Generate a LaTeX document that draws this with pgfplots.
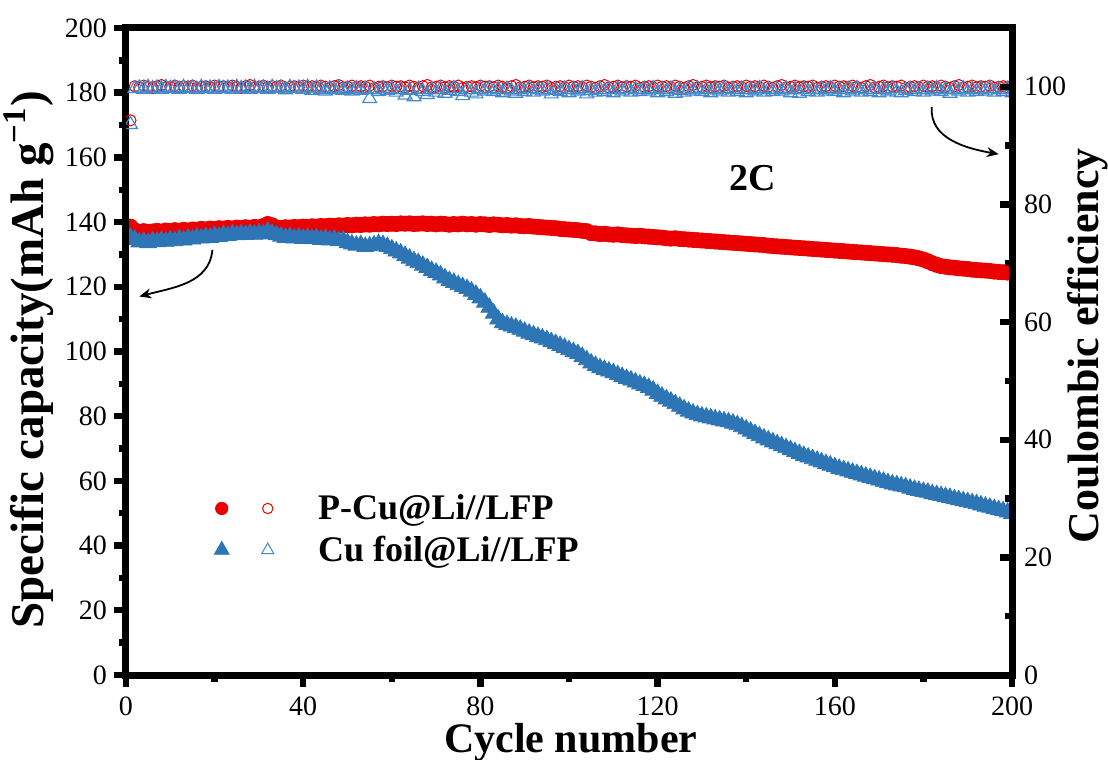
\documentclass[border=0pt]{standalone}
\usepackage{fontspec}
\setmainfont{Liberation Serif}
\usepackage{pgfplots}
\pgfplotsset{compat=1.18}
\usepackage{pgfplotstable}
\usetikzlibrary{arrows.meta,calc}
\definecolor{pred}{RGB}{235,0,0}
\definecolor{cublue}{RGB}{46,117,182}
\definecolor{cuopen}{RGB}{66,138,204}

% cycle, capacity P-Cu, CE P-Cu, capacity Cu foil, CE Cu foil
\pgfplotstableread{
c pcap pce ccap cce
1 138.6 94.3 135.2 93.6
2 137.4 100.1 134.6 99.7
3 137.0 99.9 133.8 99.8
4 137.2 100.2 134.0 99.6
5 136.9 100.0 133.6 99.9
6 137.1 99.8 134.1 99.7
7 137.3 100.1 133.9 99.8
8 137.0 100.3 134.3 99.6
9 137.4 99.9 134.0 99.9
10 137.2 100.0 134.5 99.7
11 137.5 100.2 134.2 99.8
12 137.3 99.9 134.8 99.6
13 137.6 100.1 134.4 99.9
14 137.4 100.0 135.0 99.7
15 137.7 100.2 134.7 99.8
16 137.6 99.8 135.3 99.6
17 137.9 100.0 135.0 99.9
18 137.7 100.1 135.5 99.7
19 138.0 99.9 135.2 99.8
20 137.8 100.2 135.8 99.6
21 138.1 100.0 135.5 99.9
22 138.0 100.1 136.1 99.7
23 138.2 99.9 135.8 99.8
24 138.0 100.2 136.3 99.6
25 138.3 100.0 136.0 99.9
26 138.1 99.8 136.4 99.7
27 138.4 100.1 136.1 99.8
28 138.2 100.3 136.5 99.6
29 138.5 99.9 136.2 99.9
30 138.4 100.0 136.6 99.7
31 138.8 100.2 136.3 99.8
32 139.4 99.9 137.2 99.6
33 139.0 100.1 136.4 99.9
34 138.3 100.0 136.0 99.7
35 138.2 100.2 135.6 99.8
36 138.4 99.8 135.2 99.5
37 138.3 100.0 135.5 99.9
38 138.5 100.1 135.0 99.7
39 138.4 99.9 135.3 99.8
40 138.6 100.2 134.9 99.6
41 138.5 100.0 135.2 99.9
42 138.7 100.1 134.8 99.4
43 138.6 99.9 135.1 99.8
44 138.8 100.2 134.6 99.6
45 138.7 100.0 134.9 99.3
46 138.9 99.8 134.4 99.7
47 138.8 100.1 134.7 99.5
48 139.0 100.3 134.2 99.8
49 138.9 99.9 134.4 99.4
50 139.1 100.0 133.6 99.6
51 139.0 100.2 133.2 99.3
52 139.2 99.9 132.8 99.7
53 139.1 100.1 133.0 99.4
54 139.3 100.0 132.4 99.6
55 139.2 100.2 132.6 98.0
56 139.4 99.8 132.9 99.5
57 139.3 100.0 133.3 99.2
58 139.5 100.1 133.0 99.7
59 139.4 99.9 132.4 99.4
60 139.5 100.2 131.7 99.6
61 139.4 100.0 131.0 99.1
62 139.6 100.1 130.4 99.5
63 139.5 99.9 129.6 98.6
64 139.6 100.2 128.8 99.4
65 139.4 100.0 128.0 98.3
66 139.5 99.8 127.4 99.6
67 139.6 100.1 126.6 99.2
68 139.4 100.3 125.9 98.7
69 139.5 99.9 125.0 99.5
70 139.3 100.0 124.4 99.1
71 139.5 100.2 123.6 99.6
72 139.4 99.9 122.7 98.9
73 139.2 100.1 121.9 99.4
74 139.4 100.0 121.3 99.7
75 139.3 100.2 120.6 99.2
76 139.5 99.8 120.0 98.5
77 139.3 100.0 119.4 99.5
78 139.4 100.1 118.6 99.1
79 139.2 99.9 117.6 98.8
80 139.4 100.2 116.5 99.6
81 139.3 100.0 115.2 99.3
82 139.1 100.1 113.6 99.7
83 139.3 99.9 111.8 99.2
84 139.2 100.2 110.0 99.5
85 139.0 100.0 108.8 99.0
86 139.1 99.8 108.3 99.6
87 138.9 100.1 107.8 99.3
88 139.0 100.3 107.4 98.9
89 138.8 99.9 106.8 99.5
90 138.7 100.0 106.2 99.2
91 138.8 100.2 105.6 99.7
92 138.6 99.9 105.1 99.1
93 138.5 100.1 104.6 99.5
94 138.4 100.0 104.1 99.3
95 138.3 100.2 103.6 99.6
96 138.2 99.8 103.0 98.8
97 138.1 100.0 102.4 99.4
98 137.9 100.1 101.8 99.2
99 137.8 99.9 101.2 99.6
100 137.7 100.2 100.5 99.0
101 137.6 100.0 99.9 99.5
102 137.5 100.1 99.3 99.3
103 137.3 99.9 98.4 99.7
104 137.2 100.2 97.4 98.8
105 136.6 100.0 96.4 99.4
106 136.5 99.8 95.6 99.1
107 136.3 100.1 94.9 99.6
108 136.4 100.3 94.4 99.2
109 136.2 99.9 93.9 99.5
110 136.1 100.0 93.4 99.0
111 136.2 100.2 92.8 99.6
112 136.0 99.9 92.2 99.3
113 135.9 100.1 91.6 99.7
114 135.8 100.0 91.1 99.1
115 135.7 100.2 90.5 99.5
116 135.8 99.8 89.9 99.2
117 135.6 100.0 89.4 99.6
118 135.5 100.1 88.8 99.3
119 135.4 99.9 88.0 99.7
120 135.3 100.2 87.0 99.0
121 135.2 100.0 86.1 99.5
122 135.0 100.1 85.3 99.2
123 134.9 99.9 84.6 99.6
124 135.0 100.2 83.8 98.9
125 134.8 100.0 83.0 99.4
126 134.7 99.8 82.2 99.1
127 134.6 100.1 81.5 99.6
128 134.5 100.3 80.9 99.3
129 134.4 99.9 80.4 99.7
130 134.3 100.0 80.0 99.2
131 134.2 100.2 79.7 99.5
132 134.1 99.9 79.4 99.0
133 134.0 100.1 79.1 99.6
134 133.9 100.0 78.8 99.3
135 133.8 100.2 78.5 99.7
136 133.7 99.8 78.2 99.1
137 133.6 100.0 77.8 99.5
138 133.5 100.1 77.3 99.2
139 133.4 99.9 76.7 99.6
140 133.3 100.2 76.0 99.0
141 133.2 100.0 75.3 99.5
142 133.1 100.1 74.6 99.3
143 133.0 99.9 73.9 99.7
144 132.9 100.2 73.2 99.1
145 132.7 100.0 72.6 99.5
146 132.6 99.8 72.0 99.2
147 132.5 100.1 71.4 99.6
148 132.4 100.3 70.8 99.3
149 132.3 99.9 70.2 99.7
150 132.2 100.0 69.6 99.0
151 132.1 100.2 69.0 99.5
152 132.0 99.9 68.4 98.9
153 131.9 100.1 67.8 99.6
154 131.8 100.0 67.3 99.2
155 131.7 100.2 66.8 99.5
156 131.6 99.8 66.3 99.1
157 131.5 100.0 65.8 99.6
158 131.4 100.1 65.3 99.3
159 131.3 99.9 64.8 99.7
160 131.2 100.2 64.3 99.2
161 131.1 100.0 63.8 99.5
162 131.0 100.1 63.4 99.0
163 130.9 99.9 63.0 99.6
164 130.8 100.2 62.6 99.3
165 130.7 100.0 62.2 99.7
166 130.6 99.8 61.8 99.1
167 130.5 100.1 61.4 99.5
168 130.4 100.3 61.0 99.2
169 130.3 99.9 60.6 99.6
170 130.2 100.0 60.2 99.0
171 130.1 100.2 59.8 99.5
172 130.0 99.9 59.4 99.3
173 129.9 100.1 59.0 99.7
174 129.8 100.0 58.7 99.1
175 129.6 100.2 58.4 99.0
176 129.5 99.8 58.1 99.4
177 129.3 100.0 57.7 99.6
178 129.1 100.1 57.3 99.2
179 128.8 99.9 57.0 99.5
180 128.4 100.2 56.7 99.1
181 127.9 100.0 56.4 99.6
182 127.3 100.1 56.0 99.3
183 126.8 99.9 55.7 99.7
184 126.4 100.2 55.4 99.2
185 126.2 100.0 55.1 99.5
186 126.0 99.8 54.8 98.9
187 125.9 100.1 54.4 99.6
188 125.7 100.3 54.1 99.3
189 125.6 99.9 53.8 99.7
190 125.5 100.0 53.5 99.1
191 125.3 100.2 53.2 99.5
192 125.2 99.9 52.9 99.2
193 125.1 100.1 52.5 99.6
194 125.0 100.0 52.1 99.3
195 124.9 100.2 51.8 99.7
196 124.7 99.8 51.4 99.1
197 124.6 100.0 51.0 99.5
198 124.5 100.1 50.7 99.2
199 124.4 99.9 50.3 99.6
200 124.3 100.2 49.9 99.0
}\cycdata

\begin{document}
\begin{tikzpicture}
\begin{axis}[
    name=main,
    scale only axis, width=443pt, height=323.5pt,
    xmin=0, xmax=200, ymin=0, ymax=200,
    xtick={0,40,...,200}, minor xtick={20,60,...,180},
    ytick={0,20,...,200}, minor ytick={10,30,...,190},
    xtick pos=left, ytick pos=left, tick align=outside,
    major tick length=6pt, minor tick length=3.5pt,
    tick style={black, line width=3.2pt},
    axis line style={line width=3.5pt},
    axis on top, clip marker paths=true,
    /pgf/number format/assume math mode=true,
    tick label style={font=\fontsize{14}{16}\selectfont},
    xticklabel style={yshift=-1.3pt},
    xlabel={Cycle number},
    xlabel style={at={(axis description cs:0.502,-0.1205)}, anchor=base,
        font=\bfseries\fontsize{21}{23}\selectfont},
    ylabel={Specific capacity(mAh g\textsuperscript{\char"2212 1})},
    ylabel style={at={(axis description cs:-0.1095,0.487)}, anchor=center,
        font=\bfseries\fontsize{23.5}{25}\selectfont},
    legend style={draw=none, fill=none, at={(rel axis cs:0.092,0.292)}, anchor=north west,
        font=\bfseries\fontsize{18}{20}\selectfont, row sep=2.7pt},
    legend cell align=left,
]
    \addlegendimage{legend image code/.code={
        \fill[pred] (0pt,0pt) circle (3.1pt);
        \draw[pred, line width=0.5pt] (23pt,0pt) circle (2.6pt);
        \path (46pt,0pt);}}
    \addlegendentry{P-Cu@Li//LFP}
    \addlegendimage{legend image code/.code={
        \fill[cublue] (0pt,4.3pt) -- (-3.72pt,-2.15pt) -- (3.72pt,-2.15pt) -- cycle;
        \draw[cuopen, line width=0.5pt] (23pt,3.5pt) -- (20pt,-1.75pt) -- (26pt,-1.75pt) -- cycle;
        \path (46pt,0pt);}}
    \addlegendentry{Cu foil@Li//LFP}

    \addplot[forget plot, only marks, mark=*, mark size=3.8pt,
        mark options={draw=pred, fill=pred}] table[x=c, y=pcap]{\cycdata};
    \addplot[forget plot, only marks, mark=triangle*, mark size=4.8pt,
        mark options={draw=cublue, fill=cublue}] table[x=c, y=ccap]{\cycdata};

    \node[font=\bfseries\fontsize{19}{21}\selectfont] at (axis cs:141.4,153.6) {2C};
    \draw[-{Stealth[length=6pt,width=5pt]}, line width=0.9pt]
        (axis cs:19.5,131.4) to[out=-95,in=15] (axis cs:3,117);
    \draw[-{Stealth[length=6pt,width=5pt]}, line width=0.9pt]
        (axis cs:181.9,175.6) to[out=-95,in=170] (axis cs:197,161);
\end{axis}

\begin{axis}[
    scale only axis, width=443pt, height=323.5pt,
    xmin=0, xmax=200, ymin=0, ymax=110,
    axis x line=none, axis y line*=right,
    ytick pos=right, yticklabel pos=right,
    ytick={0,20,...,100}, minor ytick={10,30,...,90},
    tick align=inside, major tick length=6pt, minor tick length=3.5pt,
    tick style={black, line width=3.2pt},
    axis line style={line width=3.5pt, -},
    axis on top, clip marker paths=true,
    /pgf/number format/assume math mode=true,
    tick label style={font=\fontsize{14}{16}\selectfont},
    yticklabel style={xshift=2.5pt},
    ylabel={Coulombic efficiency},
    ylabel style={at={(axis description cs:1.0858,0.509)}, anchor=center,
        font=\bfseries\fontsize{22}{24}\selectfont},
]
    \addplot[only marks, mark=o, mark size=2.8pt,
        mark options={draw=pred, line width=0.5pt}] table[x=c, y=pce]{\cycdata};
    \addplot[only marks, mark=triangle, mark size=4pt,
        mark options={draw=cuopen, line width=0.6pt}] table[x=c, y=cce]{\cycdata};
\end{axis}

\pgfresetboundingbox
\path ($(main.south west)+(-63pt,-42.5pt)$) rectangle ($(main.north east)+(48pt,14pt)$);
\end{tikzpicture}
\end{document}
